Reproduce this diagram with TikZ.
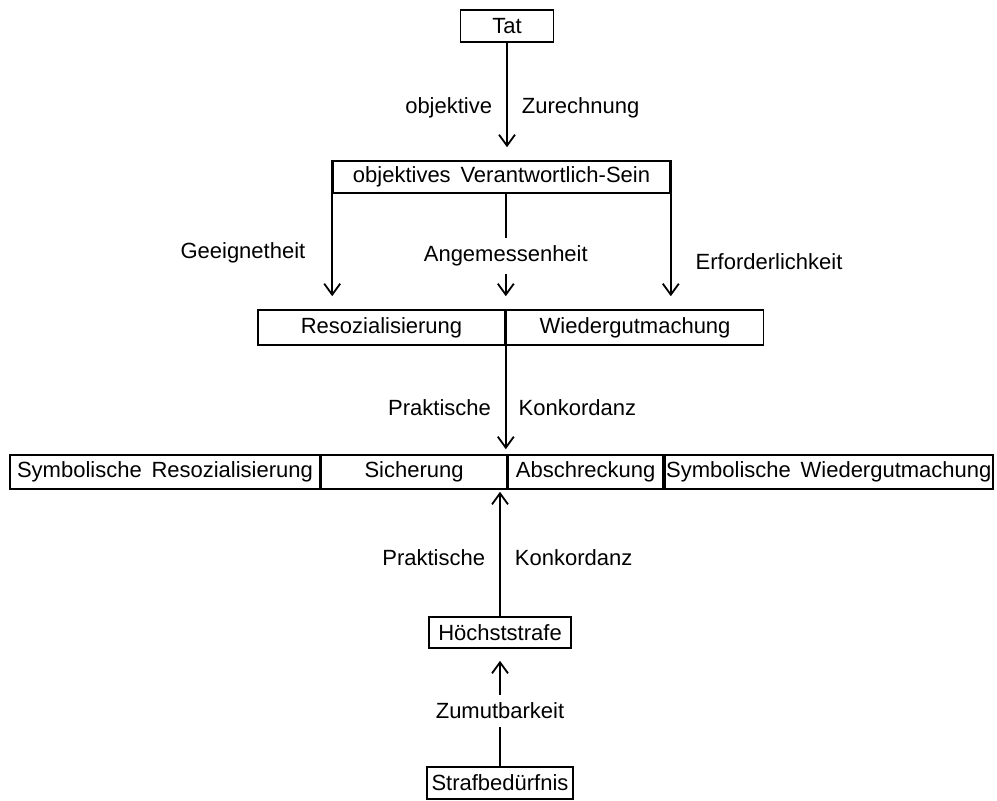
\documentclass[tikz,border=0pt]{standalone}
\usepackage{fontspec}
\setmainfont{Liberation Sans}[WordSpace=1.6]
\usetikzlibrary{positioning,arrows.meta}

\begin{document}
\begin{tikzpicture}[
  x=0.5pt, y=-0.5pt,
  font=\fontsize{11}{13}\selectfont,
  box/.style={draw, line width=0.8pt, inner xsep=0.5pt, inner ysep=0pt, minimum height=16pt},
  arrow/.style={-{Straight Barb[length=5.5pt,width=8pt]}, line width=0.9pt},
  lbl/.style={inner sep=1pt},
  gap/.style={fill=white, inner xsep=2pt, inner ysep=4pt}
]
  \useasboundingbox (0,0) rectangle (997,800);
  % boxes, top to bottom
  \node[box, minimum width=46.5pt] (tat) at (507,26) {Tat};
  \node[box, minimum width=168.5pt] (ovs) at (501.5,177) {objektives Verantwortlich-Sein};

  \node[box, minimum width=123.5pt, minimum height=17.5pt] (res) at (381.5,327.5) {Resozialisierung};
  \node[box, minimum width=128.5pt, minimum height=17.5pt, right=0pt of res] (wgm) {Wiedergutmachung};

  \node[box, minimum width=155pt, minimum height=17pt] (symres) at (165,472) {Symbolische Resozialisierung};
  \node[box, minimum width=92.5pt, minimum height=17pt, right=0pt of symres] (sich) {Sicherung};
  \node[box, minimum width=77.5pt, minimum height=17pt, right=0pt of sich] (absch) {Abschreckung};
  \node[box, minimum width=164pt, minimum height=17pt, right=0pt of absch] (symwgm) {Symbolische Wiedergutmachung};

  \node[box, minimum width=71pt, minimum height=15.5pt] (hoechst) at (500,632.5) {Höchststrafe};
  \node[box, minimum width=73pt] (strafb) at (500,783) {Strafbedürfnis};

  % connectors
  \draw[arrow, shorten >=6.5pt] (tat) -- (tat |- ovs.north)
    node[lbl, pos=0.55, left=6pt] {objektive}
    node[lbl, pos=0.55, right=6pt] {Zurechnung};

  \draw[arrow, shorten >=6.5pt] (ovs.north west) -- (ovs.north west |- res.north)
    node[lbl, pos=0.62, left=12pt] {Geeignetheit};
  \draw[arrow, shorten >=6.5pt] (ovs.south -| res.east) -- (res.north east)
    node[gap, pos=0.54] {Angemessenheit};
  \draw[arrow, shorten >=6.5pt] (ovs.north east) -- (ovs.north east |- res.north)
    node[lbl, pos=0.68, right=11pt] {Erforderlichkeit};

  \draw[arrow, shorten >=2.5pt] (res.south east) -- (res.south east |- sich.north)
    node[lbl, pos=0.57, left=6pt] {Praktische}
    node[lbl, pos=0.57, right=5pt] {Konkordanz};

  \draw[arrow, shorten >=1pt] (hoechst) -- (hoechst |- sich.south)
    node[lbl, pos=0.46, left=6pt] {Praktische}
    node[lbl, pos=0.46, right=6pt] {Konkordanz};

  \draw[arrow, shorten >=6pt] (strafb) -- (strafb |- hoechst.south)
    node[gap, pos=0.47] {Zumutbarkeit};
\end{tikzpicture}
\end{document}
